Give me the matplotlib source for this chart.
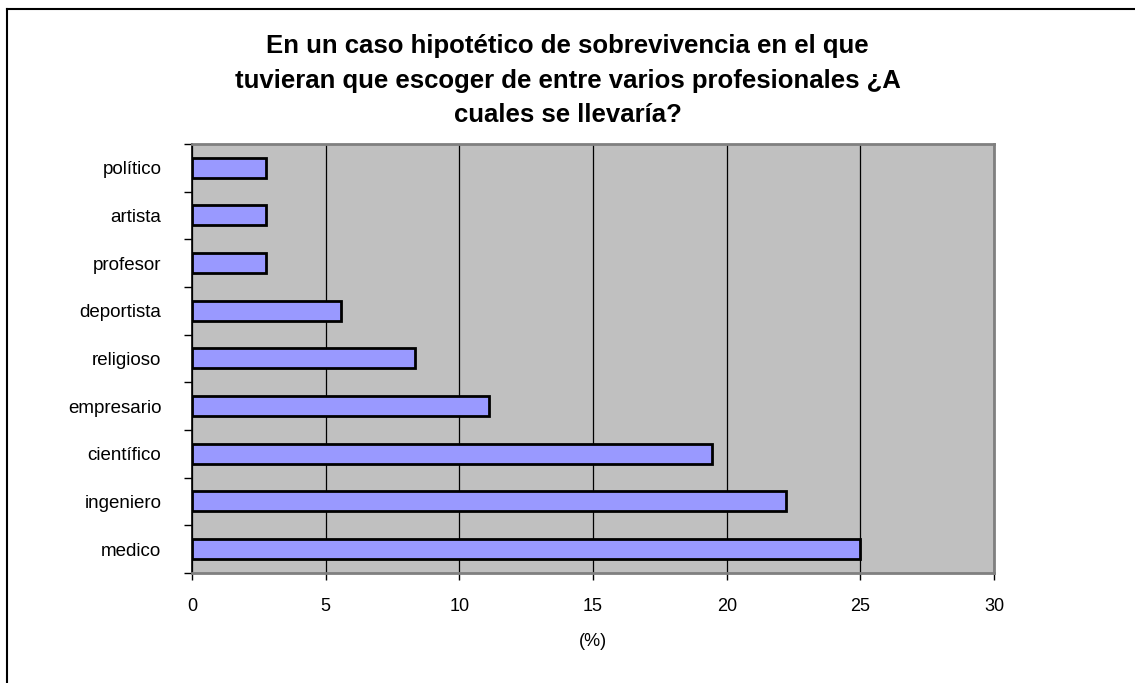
import matplotlib
matplotlib.use('Agg')
import matplotlib.pyplot as plt
import numpy as np

# respuestas (%) por profesion
profesiones = ['medico', 'ingeniero', 'científico', 'empresario', 'religioso',
               'deportista', 'profesor', 'artista', 'político']
porcentajes = [25.0, 22.22, 19.44, 11.11, 8.33, 5.56, 2.78, 2.78, 2.78]
xticks = [0, 5, 10, 15, 20, 25, 30]
titulo = ('En un caso hipotético de sobrevivencia en el que\n'
          'tuvieran que escoger de entre varios profesionales ¿A\n'
          'cuales se llevaría?')

plt.rcParams['font.family'] = ['Liberation Sans', 'DejaVu Sans']

fig = plt.figure(figsize=(11.35, 6.83), dpi=100)
ax = fig.add_axes([0.1692, 0.1611, 0.7066, 0.6281])
ax.set_facecolor('#C0C0C0')

ypos = np.arange(len(profesiones))
ax.barh(ypos, porcentajes, height=0.42, color='#9999FF', edgecolor='black', lw=2, zorder=3)

ax.set_xlim(0, 30)
ax.set_ylim(-0.5, len(profesiones) - 0.5)
ax.set_xticks(xticks)
ax.set_xticklabels([str(t) for t in xticks], fontsize=13)
ax.xaxis.grid(True, color='black', lw=0.9, zorder=1)
ax.tick_params(axis='x', length=5, width=1, pad=13, direction='out')

ax.set_yticks(ypos)
ax.set_yticklabels(profesiones, fontsize=13.5)
ax.set_yticks(np.arange(len(profesiones) + 1) - 0.5, minor=True)
ax.tick_params(axis='y', which='major', length=0, pad=22)
ax.tick_params(axis='y', which='minor', length=6, width=1)

for s in ['top', 'right', 'bottom']:
    ax.spines[s].set_color('#808080')
    ax.spines[s].set_linewidth(2)
ax.spines['left'].set_color('black')
ax.spines['left'].set_linewidth(1.2)

ax.set_xlabel('(%)', fontsize=13, labelpad=13)

fig.text(0.5, 0.95, titulo, ha='center', va='top', fontsize=18.5, fontweight='bold',
         linespacing=1.55)

# marco del grafico
fig.add_artist(plt.Line2D([0.0062, 0.0062], [0, 0.987], color='black', lw=1.5,
                          transform=fig.transFigure))
fig.add_artist(plt.Line2D([0.0062, 1], [0.987, 0.987], color='black', lw=1.5,
                          transform=fig.transFigure))

plt.savefig('out.png', dpi=100)
